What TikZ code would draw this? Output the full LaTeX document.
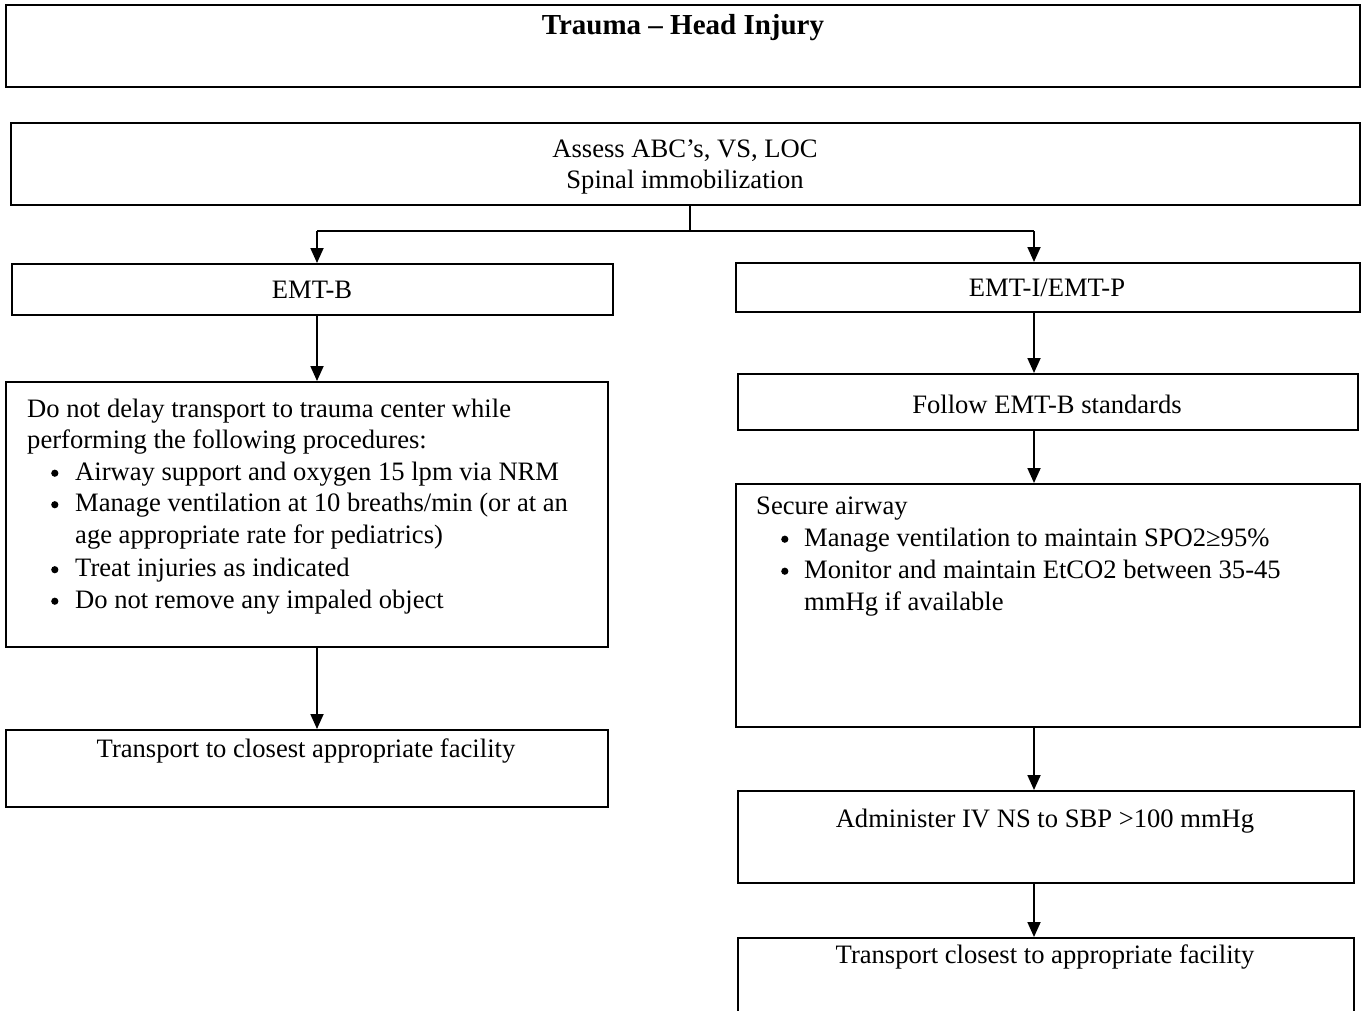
\documentclass[tikz,border=0pt]{standalone}
\usepackage{fontspec}
\setmainfont{Liberation Serif}
\usetikzlibrary{arrows.meta}
\newcommand{\itemdot}{\raisebox{3.2pt}{\tikz\fill (0,0) circle (3.6pt);}}
\begin{document}
\begin{tikzpicture}[x=1pt,y=-1pt,
  box/.style={draw, line width=1.8pt, inner sep=0pt, anchor=north west},
  txt/.style={inner sep=0pt, anchor=base, font=\fontsize{26.6pt}{32pt}\selectfont},
  list/.style={inner sep=0pt, anchor=base west, font=\fontsize{26.6pt}{31.5pt}\selectfont},
  link/.style={line width=1.8pt},
  arr/.style={line width=1.8pt, -{Triangle[width=13pt,length=15pt]}}]
\useasboundingbox (0,0) rectangle (1362,1010);
\clip (0,0) rectangle (1362,1010);

% boxes
\node[box, minimum width=1354pt, minimum height=82pt] (title) at (5,4) {};
\node[box, minimum width=1349pt, minimum height=82pt] (assess) at (10,122) {};
\node[box, minimum width=601pt, minimum height=51pt] (emtb) at (11,263) {};
\node[box, minimum width=624pt, minimum height=49pt] (emti) at (735,262) {};
\node[box, minimum width=602pt, minimum height=265pt] (delay) at (5,381) {};
\node[box, minimum width=602pt, minimum height=77pt] (tr1) at (5,729) {};
\node[box, minimum width=620pt, minimum height=56pt] (follow) at (737,373) {};
\node[box, minimum width=624pt, minimum height=243pt] (secure) at (735,483) {};
\node[box, minimum width=616pt, minimum height=92pt] (admin) at (737,790) {};
\node[box, minimum width=616pt, minimum height=100pt] (tr2) at (737,937) {};

% texts
\node[txt, font=\fontsize{29pt}{34pt}\selectfont\bfseries] (titletext) at (683,34) {Trauma – Head Injury};
\node[txt] (assess1) at (685,157) {Assess ABC’s, VS, LOC};
\node[txt] (assess2) at (685,188) {Spinal immobilization};
\node[txt] (emtbtext) at (312,298) {EMT-B};
\node[txt] (emtitext) at (1047,296) {EMT-I/EMT-P};
\node[txt] (followtext) at (1047,413) {Follow EMT-B standards};
\node[txt] (tr1text) at (306,757) {Transport to closest appropriate facility};
\node[txt] (admintext) at (1045,827) {Administer IV NS to SBP >100 mmHg};
\node[txt] (tr2text) at (1045,963) {Transport closest to appropriate facility};

\node[list] (delaytext) at (27,417) {\parbox[t]{575pt}{%
Do not delay transport to trauma center while\\
performing the following procedures:\\
\hspace*{24pt}\makebox[24pt][l]{\itemdot}Airway support and oxygen 15 lpm via NRM\\
\hspace*{24pt}\makebox[24pt][l]{\itemdot}Manage ventilation at 10 breaths/min (or at an\\
\hspace*{48pt}age appropriate rate for pediatrics)\\[2pt]
\hspace*{24pt}\makebox[24pt][l]{\itemdot}Treat injuries as indicated\\
\hspace*{24pt}\makebox[24pt][l]{\itemdot}Do not remove any impaled object}};

\node[list, font=\fontsize{26.6pt}{32pt}\selectfont] (securetext) at (756,514) {\parbox[t]{595pt}{%
Secure airway\\
\hspace*{25pt}\makebox[23pt][l]{\itemdot}Manage ventilation to maintain SPO2≥95\%\\
\hspace*{25pt}\makebox[23pt][l]{\itemdot}Monitor and maintain EtCO2 between 35-45\\
\hspace*{48pt}mmHg if available}};

% connectors
\coordinate (split) at (690,231);
\coordinate (lx) at (317,0);
\coordinate (rx) at (1034,0);
\draw[link] (split |- assess.south) -- (split);
\draw[link] (lx |- split) -- (rx |- split);
\draw[arr] (lx |- split) -- (lx |- emtb.north);
\draw[arr] (rx |- split) -- (rx |- emti.north);
\draw[arr] (lx |- emtb.south) -- (lx |- delay.north);
\draw[arr] (lx |- delay.south) -- (lx |- tr1.north);
\draw[arr] (rx |- emti.south) -- (rx |- follow.north);
\draw[arr] (rx |- follow.south) -- (rx |- secure.north);
\draw[arr] (rx |- secure.south) -- (rx |- admin.north);
\draw[arr] (rx |- admin.south) -- (rx |- tr2.north);
\end{tikzpicture}
\end{document}
